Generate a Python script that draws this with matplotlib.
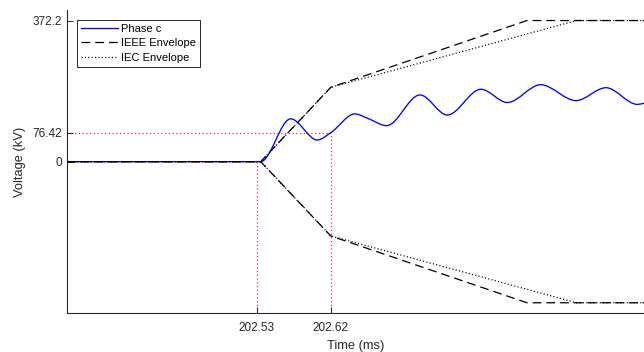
import numpy as np
import matplotlib
matplotlib.use("Agg")
import matplotlib.pyplot as plt
from matplotlib.path import Path
from matplotlib.patches import PathPatch
from matplotlib.lines import Line2D

plt.rcParams['font.family'] = ['Liberation Sans', 'DejaVu Sans']

# Phase c recovery voltage: turning points of the waveform (time in ms, voltage in kV)
phase_t = [202.300, 202.535, 202.5714, 202.6037, 202.620, 202.6494, 202.664,
           202.6878, 202.7282, 202.7614, 202.8022, 202.8342, 202.8747,
           202.9175, 202.9539, 202.9919, 203.000]
phase_v = [0.0, 0.0, 113.0, 57.0, 76.42, 126.0, 115.0,
           95.0, 176.0, 123.0, 191.0, 156.0, 203.0,
           161.0, 195.0, 151.0, 154.0]

# TRV envelopes (upper branch; the lower branch is its mirror image)
ieee_t = [202.300, 202.535, 202.620, 202.858, 203.000]
ieee_v = [0.0, 0.0, 196.0, 372.2, 372.2]
iec_t = [202.300, 202.535, 202.620, 202.918, 203.000]
iec_v = [0.0, 0.0, 196.0, 372.2, 372.2]

# Reference markers
t_zero = 202.53
t_mark = 202.62
v_mark = 76.42

x_ticks = [202.53, 202.62]
x_ticklabels = ['202.53', '202.62']
y_ticks = [0, 76.42, 372.2]
y_ticklabels = ['0', '76.42', '372.2']
x_limits = (202.30, 203.00)
y_limits = (-400, 400)


def hermite_path(x, y):
    """Smooth monotone cubic path through the given points."""
    x = np.asarray(x, float)
    y = np.asarray(y, float)
    h = np.diff(x)
    d = np.diff(y) / h
    m = np.zeros_like(y)
    for k in range(1, len(y) - 1):
        if d[k - 1] * d[k] > 0:
            w1 = 2 * h[k] + h[k - 1]
            w2 = h[k] + 2 * h[k - 1]
            m[k] = (w1 + w2) / (w1 / d[k - 1] + w2 / d[k])
    m[-1] = d[-1]
    verts = [(x[0], y[0])]
    codes = [Path.MOVETO]
    for k in range(len(x) - 1):
        dt = h[k] / 3.0
        verts += [(x[k] + dt, y[k] + m[k] * dt),
                  (x[k + 1] - dt, y[k + 1] - m[k + 1] * dt),
                  (x[k + 1], y[k + 1])]
        codes += [Path.CURVE4] * 3
    return Path(verts, codes)


W, H = 644, 352
fig = plt.figure(figsize=(W / 100, H / 100), dpi=100)
ax_left, ax_right, ax_top, ax_bottom = 67, 644, 10, 313.3
ax = fig.add_axes([ax_left / W, (H - ax_bottom) / H,
                   (ax_right - ax_left) / W, (ax_bottom - ax_top) / H])

axis_color = '#262626'
red = '#e0304a'
marker_dash = (1.0, 2.0)

# Reference markers
ax.plot([x_limits[0], t_mark], [v_mark, v_mark], color=red, lw=0.9,
        dashes=marker_dash, zorder=1)
ax.plot([t_zero, t_zero], [y_limits[0], 0], color=red, lw=0.9,
        dashes=marker_dash, zorder=1)
ax.plot([t_mark, t_mark], [y_limits[0], v_mark], color=red, lw=0.9,
        dashes=marker_dash, zorder=1)

# Phase c waveform
ax.add_patch(PathPatch(hermite_path(phase_t, phase_v), facecolor='none',
                       edgecolor='blue', lw=0.95, zorder=2))

# Envelopes
ieee_dash = (7.0, 4.0)
iec_dash = (0.9, 1.8)
for sign in (1, -1):
    ax.plot(ieee_t, [sign * v for v in ieee_v], color='black', lw=0.9,
            dashes=ieee_dash, zorder=3)
    ax.plot(iec_t, [sign * v for v in iec_v], color='black', lw=0.9,
            dashes=iec_dash, zorder=3)

ax.set_xlim(*x_limits)
ax.set_ylim(*y_limits)
ax.set_xticks(x_ticks)
ax.set_xticklabels(x_ticklabels)
ax.set_yticks(y_ticks)
ax.set_yticklabels(y_ticklabels)

for side in ('top', 'right'):
    ax.spines[side].set_visible(False)
for side in ('left', 'bottom'):
    ax.spines[side].set_color(axis_color)
    ax.spines[side].set_linewidth(0.8)

ax.tick_params(direction='in', length=4, width=0.7, colors=axis_color,
               labelsize=8.5)
ax.tick_params(axis='x', pad=6)
ax.tick_params(axis='y', pad=3.5)

ax.set_xlabel('Time (ms)', fontsize=9.3, color=axis_color)
ax.set_ylabel('Voltage (kV)', fontsize=9.3, color=axis_color)
ax.xaxis.set_label_coords(0.5, -0.088)
ax.yaxis.set_label_coords(-0.071, 0.5)

handles = [Line2D([], [], color='blue', lw=0.95),
           Line2D([], [], color='black', lw=0.9, dashes=ieee_dash),
           Line2D([], [], color='black', lw=0.9, dashes=iec_dash)]
labels = ['Phase c', 'IEEE Envelope', 'IEC Envelope']
leg = ax.legend(handles, labels, loc='upper left',
                bbox_to_anchor=(10 / (ax_right - ax_left), 1 - 10 / (ax_bottom - ax_top)),
                borderaxespad=0, fontsize=8, handlelength=3.3,
                handletextpad=0.3, labelspacing=0.4, borderpad=0.35,
                fancybox=False, framealpha=1, edgecolor=axis_color)
leg.get_frame().set_linewidth(0.7)

fig.savefig('out.png', dpi=100)
